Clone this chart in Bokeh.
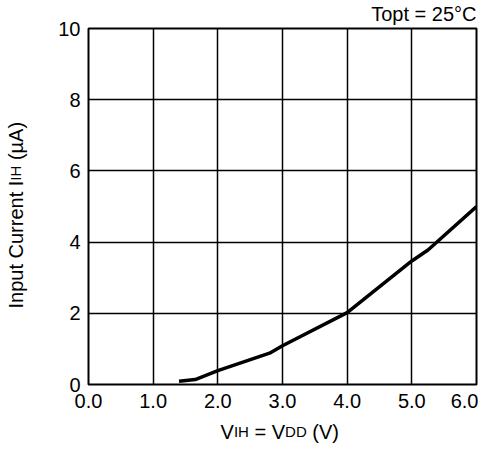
from bokeh.plotting import figure
from bokeh.models import Range1d, FixedTicker, Title
from bokeh.layouts import gridplot
from bokeh.core.properties import value
from bokeh.embed import file_html
from bokeh.resources import INLINE
import math

# ---- data ----
vih = [1.4, 1.65, 2.0, 2.8, 3.0, 4.0, 5.0, 5.25, 6.0]
iih = [0.09, 0.14, 0.39, 0.88, 1.09, 2.02, 3.47, 3.78, 5.0]
x_ticks = [0, 1, 2, 3, 4, 5, 6]
x_tick_labels = ["0.0", "1.0", "2.0", "3.0", "4.0", "5.0", "6.0"]
y_ticks = [0, 2, 4, 6, 8, 10]
y_tick_labels = ["0", "2", "4", "6", "8", "10"]
title_text = "Topt = 25\u00b0C"
xlabel_parts = ["V", "IH", "= V", "DD", "(V)"]
ylabel_parts = ["Input Current I", "IH", "(\u00b5A)"]

FONT = "Liberation Sans"
W, H = 478, 443
YLAB_W = 30
MAIN_H = 414
XLAB_H = H - MAIN_H
FL, FR, FT, FB = 88, 476, 28, 384  # plot frame, in px of the whole picture

# ---- main plot ----
p = figure(width=W - YLAB_W, height=MAIN_H, x_range=Range1d(0, 6), y_range=Range1d(0, 10),
           output_backend="svg", toolbar_location=None,
           min_border_left=FL - YLAB_W, min_border_right=W - FR,
           min_border_top=FT, min_border_bottom=MAIN_H - FB)
p.background_fill_color = "white"
p.border_fill_color = "white"
p.outline_line_color = "black"
p.outline_line_width = 2
p.outline_line_alpha = 1

for ax, ticks, labels in ((p.xaxis[0], x_ticks, x_tick_labels), (p.yaxis[0], y_ticks, y_tick_labels)):
    ax.ticker = FixedTicker(ticks=ticks)
    ax.major_label_overrides = {t: l for t, l in zip(ticks, labels)}
    ax.axis_line_color = None
    ax.major_tick_line_color = None
    ax.minor_tick_line_color = None
    ax.major_tick_out = 0
    ax.major_tick_in = 0
    ax.minor_tick_out = 0
    ax.minor_tick_in = 0
    ax.major_label_text_font = FONT
    ax.major_label_text_font_size = "20px"
    ax.major_label_text_color = "black"
p.xaxis[0].major_label_standoff = 9
p.yaxis[0].major_label_standoff = 8

p.xgrid.ticker = FixedTicker(ticks=x_ticks)
p.ygrid.ticker = FixedTicker(ticks=y_ticks)
for g in (p.xgrid[0], p.ygrid[0]):
    g.grid_line_color = "black"
    g.grid_line_width = 1.5
    g.grid_line_alpha = 1

p.line(vih, iih, line_width=3.5, line_color="black")

p.add_layout(Title(text=title_text, align="right", text_font=FONT, text_font_size="20px",
                   text_font_style="normal", text_color="black", standoff=3,
                   vertical_align="top"), "above")


def text_fig(w, h, xr, yr):
    f = figure(width=w, height=h, x_range=xr, y_range=yr,
               output_backend="svg", toolbar_location=None,
               x_axis_location=None, y_axis_location=None,
               min_border=0, min_border_left=0, min_border_right=0,
               min_border_top=0, min_border_bottom=0)
    f.grid.visible = False
    f.outline_line_color = None
    f.background_fill_color = "white"
    f.border_fill_color = "white"
    return f


def dx(px):  # picture px -> x data (frame aligned with the main plot)
    return (px - FL) / (FR - FL) * 6


def dy(py):  # picture px -> y data (frame aligned with the main plot)
    return (FB - py) / (FB - FT) * 10


# ---- y axis label (rotated, with small "IH") ----
yl = text_fig(YLAB_W, MAIN_H, Range1d(0, YLAB_W), Range1d(0, 10))
y_starts = [308, 180.2, 159.6]
y_sizes = ["20px", "15px", "20px"]
for t, s0, fs in zip(ylabel_parts, y_starts, y_sizes):
    yl.text(x=[15], y=[dy(s0)], text=[t], angle=math.pi / 2,
            text_font=value(FONT), text_font_size=value(fs), text_color="black",
            text_align="left", text_baseline="alphabetic")

# ---- x axis label (with small "IH", "DD") ----
xl = text_fig(W - YLAB_W, XLAB_H, Range1d(0, 6), Range1d(0, XLAB_H))
x_starts = [220, 233.4, 253.9, 284.6, 311.8]
x_sizes = ["20px", "15px", "20px", "15px", "20px"]
for t, s0, fs in zip(xlabel_parts, x_starts, x_sizes):
    xl.text(x=[dx(s0)], y=[12], text=[t],
            text_font=value(FONT), text_font_size=value(fs), text_color="black",
            text_align="left", text_baseline="alphabetic")

grid = gridplot([[yl, p], [None, xl]], toolbar_location=None)

open("out.html", "w").write(file_html(grid, INLINE))
